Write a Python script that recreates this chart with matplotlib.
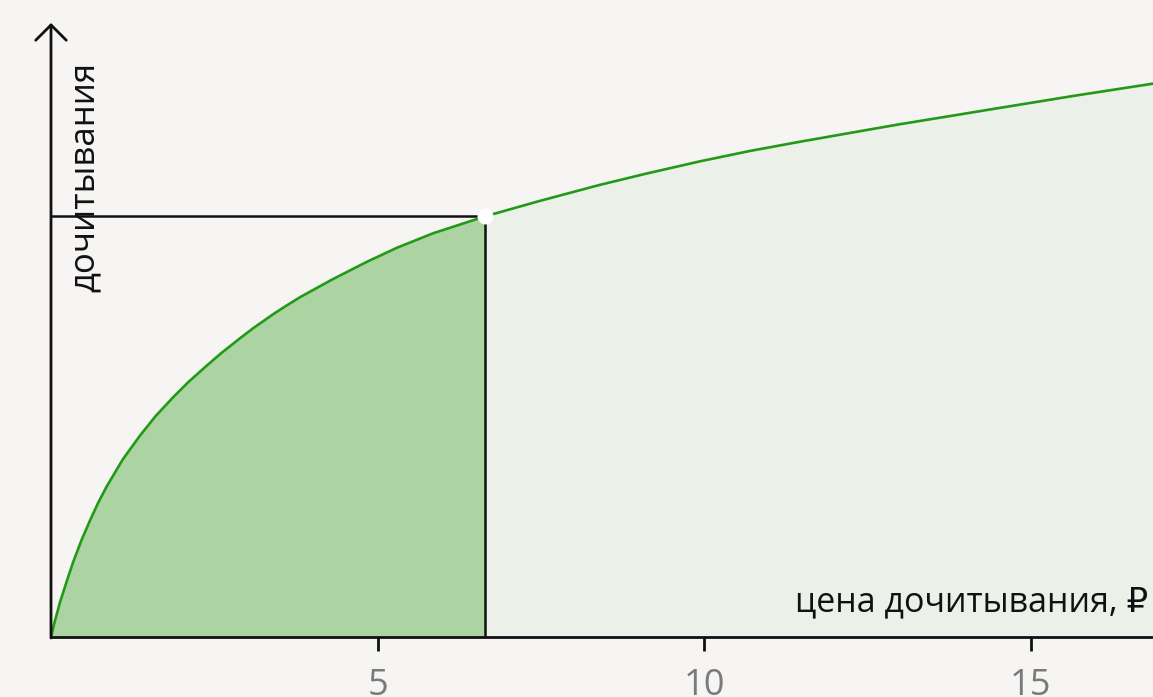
import matplotlib
matplotlib.use("Agg")
import matplotlib.pyplot as plt

# --- data (x: price, y: read-through, arbitrary units)
price = [0.0, 0.05, 0.14, 0.25, 0.34, 0.47, 0.60, 0.72, 0.85, 1.10,
         1.36, 1.60, 1.87, 2.10, 2.38, 2.60, 2.89, 3.10, 3.40, 3.60,
         3.81, 4.30, 4.83, 5.30, 5.85, 6.25, 6.65, 7.50, 8.40, 9.10,
         9.93, 10.70, 11.46, 12.20, 13.00, 13.80, 14.53, 15.70, 16.87]
reads = [0.0, 0.21, 0.54, 0.88, 1.15, 1.49, 1.79, 2.05, 2.30, 2.72,
         3.08, 3.38, 3.67, 3.90, 4.15, 4.34, 4.57, 4.73, 4.94, 5.07,
         5.20, 5.47, 5.74, 5.96, 6.18, 6.31, 6.44, 6.68, 6.92, 7.09,
         7.28, 7.44, 7.58, 7.71, 7.85, 7.98, 8.10, 8.29, 8.47]
selected_price = 6.65
selected_reads = 6.44
x_ticks = [5, 10, 15]
x_tick_labels = ["5", "10", "15"]
x_label = "цена дочитывания, ₽"
y_label = "дочитывания"

BG = "#f6f5f3"
LINE = "#229a17"
DARK = "#acd4a2"
LIGHT = "#ebf0e9"
INK = "#111111"

plt.rcParams['font.family'] = ['Open Sans', 'DejaVu Sans']

W, H = 1153, 697
fig = plt.figure(figsize=(W / 100, H / 100), dpi=100, facecolor=BG)
ax = fig.add_axes([51 / W, (H - 637) / H, (W - 51) / W, 637 / H])
ax.set_facecolor(BG)

ax.set_xlim(0, 16.87)
ax.set_ylim(0, 637 / 65.33)

# fills
left_x = [p for p in price if p <= selected_price]
left_y = reads[:len(left_x)]
right_x = [p for p in price if p >= selected_price]
right_y = reads[len(price) - len(right_x):]
ax.fill_between(left_x, 0, left_y, color=DARK, lw=0, zorder=1)
ax.fill_between(right_x, 0, right_y, color=LIGHT, lw=0, zorder=1)

# curve
ax.plot(price, reads, color=LINE, lw=1.9, zorder=3, solid_joinstyle='round')

# guide lines
ax.plot([0, selected_price], [selected_reads, selected_reads], color=INK, lw=1.8, zorder=2)
ax.plot([selected_price, selected_price], [0, selected_reads], color=INK, lw=1.8, zorder=2)
ax.plot([selected_price], [selected_reads], marker='o', ms=10.5, mfc='white',
        mec='white', zorder=5, clip_on=False)

# spines / axes
for s in ['top', 'right', 'left']:
    ax.spines[s].set_visible(False)
ax.spines['bottom'].set_color(INK)
ax.spines['bottom'].set_linewidth(2.0)
ax.spines['bottom'].set_zorder(4)

ax.set_yticks([])
ax.set_xticks(x_ticks)
ax.set_xticklabels(x_tick_labels)
ax.tick_params(axis='x', length=10, width=2.0, color=INK, labelsize=26,
               labelcolor='#7a7a7a', pad=12)

# y axis with arrow
ax.annotate('', xy=(0, (637 - 23) / 637), xytext=(0, -1 / 637),
            xycoords='axes fraction', textcoords='axes fraction',
            arrowprops=dict(arrowstyle='->,head_length=0.55,head_width=0.55',
                            lw=2.0, color=INK, mutation_scale=20,
                            shrinkA=0, shrinkB=0),
            annotation_clip=False, zorder=6)

# labels
ax.text((1148 - 51) / (W - 51), (637 - 611) / 637, x_label, transform=ax.transAxes,
        ha='right', va='baseline', fontsize=24.5, color=INK, zorder=6)
ax.text((94 - 51) / (W - 51), (637 - 292) / 637, y_label, transform=ax.transAxes,
        ha='left', va='baseline', rotation=90, rotation_mode='anchor',
        fontsize=25, color=INK, zorder=6)

fig.savefig("out.png", dpi=100, facecolor=BG)
